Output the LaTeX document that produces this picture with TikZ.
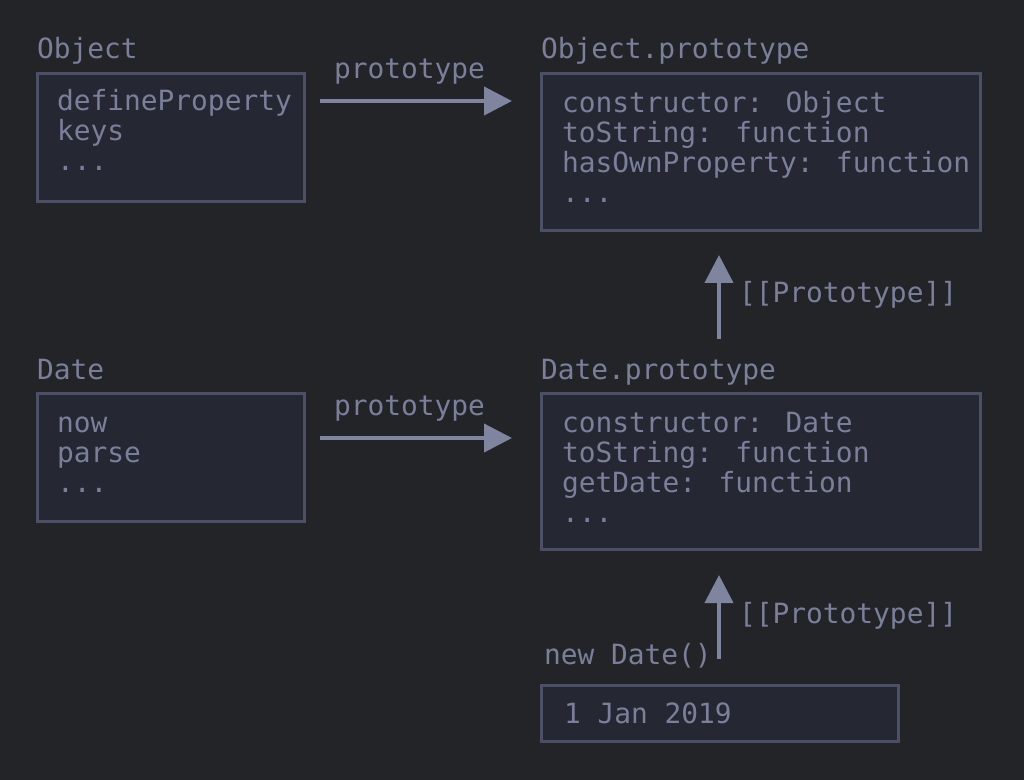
\documentclass[tikz,border=0pt]{standalone}
\usepackage{fontspec}
\setmainfont{DejaVu Sans Mono}
\usetikzlibrary{arrows.meta}
\definecolor{bgc}{HTML}{232428}
\definecolor{boxfill}{HTML}{252733}
\definecolor{boxline}{HTML}{4C5066}
\definecolor{txt}{HTML}{7A7F9A}
\definecolor{arr}{HTML}{80859F}
\begin{document}
\begin{tikzpicture}[x=0.75pt,y=-0.75pt,
  every node/.style={inner sep=0pt, outer sep=0pt, text=txt, font=\fontsize{20.9}{22}\selectfont},
  txtline/.style={anchor=base west},
  objbox/.style={draw=boxline, fill=boxfill, line width=2.25pt, rectangle},
  link/.style={draw=arr, line width=3pt, -{Triangle[length=21pt,width=21pt]}}
]
\fill[bgc] (0,0) rectangle (1024,780);
\useasboundingbox (0,0) rectangle (1024,780);

% boxes
\node[objbox, minimum width=267*0.75pt, minimum height=128*0.75pt] (objB) at (171,137.5) {};
\node[objbox, minimum width=439*0.75pt, minimum height=157*0.75pt] (objP) at (761,152) {};
\node[objbox, minimum width=267*0.75pt, minimum height=128*0.75pt] (dateB) at (171,457.5) {};
\node[objbox, minimum width=439*0.75pt, minimum height=156*0.75pt] (dateP) at (761,471.5) {};
\node[objbox, minimum width=357*0.75pt, minimum height=56*0.75pt] (inst) at (720,713.5) {};

% titles
\node[txtline] (tObj) at (37,59) {Object};
\node[txtline] (tObjP) at (541,59) {Object.prototype};
\node[txtline] (tDate) at (37,379) {Date};
\node[txtline] (tDateP) at (541,379) {Date.prototype};
\node[txtline] (tNew) at (544,664) {new Date()};

% Object contents
\node[txtline] (o1) at (57,111) {defineProperty};
\node[txtline] (o2) at (57,141) {keys};
\node[txtline] (o3) at (57,171) {...};

% Object.prototype contents
\node[txtline] (op1) at (562,113) {constructor: Object};
\node[txtline] (op2) at (562,143) {toString: function};
\node[txtline] (op3) at (562,173) {hasOwnProperty: function};
\node[txtline] (op4) at (562,203) {...};

% Date contents
\node[txtline] (d1) at (57,432) {now};
\node[txtline] (d2) at (57,462) {parse};
\node[txtline] (d3) at (57,492) {...};

% Date.prototype contents
\node[txtline] (dp1) at (562,432) {constructor: Date};
\node[txtline] (dp2) at (562,462) {toString: function};
\node[txtline] (dp3) at (562,492) {getDate: function};
\node[txtline] (dp4) at (562,522) {...};

% instance
\node[txtline] (i1) at (564,723) {1 Jan 2019};

% connector endpoints
\coordinate (a1s) at (320,101);
\coordinate (a1e) at (512,101);
\coordinate (a2s) at (320,438);
\coordinate (a2e) at (512,438);
\coordinate (u1s) at (719,339);
\coordinate (u1e) at (719,255);
\coordinate (u2s) at (719,659);
\coordinate (u2e) at (719,575);

\draw[link] (a1s) -- (a1e);
\draw[link] (a2s) -- (a2e);
\draw[link] (u1s) -- (u1e);
\draw[link] (u2s) -- (u2e);

\node[txtline] (l1) at (334,79) {prototype};
\node[txtline] (l2) at (334,415) {prototype};
\node[txtline] (l3) at (739,303) {[[Prototype]]};
\node[txtline] (l4) at (739,623) {[[Prototype]]};
\end{tikzpicture}
\end{document}
